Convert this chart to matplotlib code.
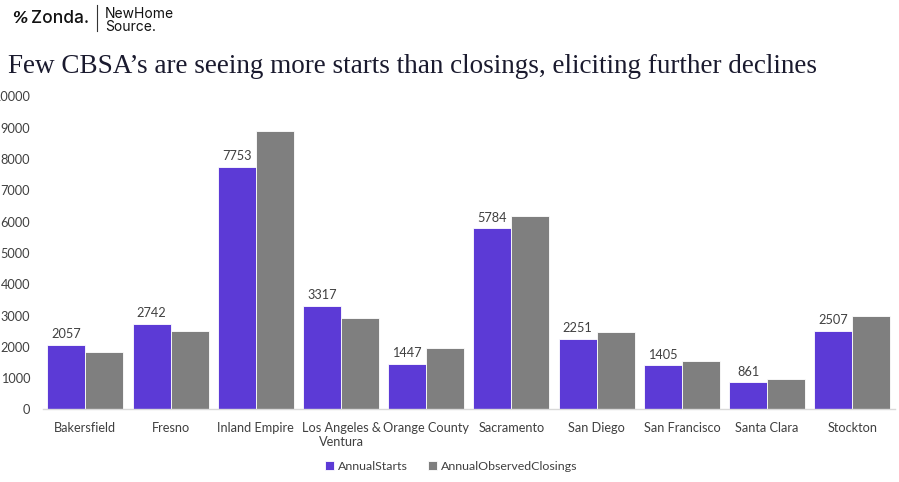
import matplotlib
matplotlib.use("Agg")
import matplotlib.pyplot as plt
import numpy as np

categories = ["Bakersfield", "Fresno", "Inland Empire", "Los Angeles &\nVentura",
              "Orange County", "Sacramento", "San Diego", "San Francisco",
              "Santa Clara", "Stockton"]
annual_starts = [2057, 2742, 7753, 3317, 1447, 5784, 2251, 1405, 861, 2507]
annual_closings = [1824, 2505, 8904, 2930, 1952, 6189, 2473, 1537, 962, 2974]
yticks = [0, 1000, 2000, 3000, 4000, 5000, 6000, 7000, 8000, 9000, 10000]

PURPLE = "#5C3AD6"
GRAY = "#7F7F7F"
TXT = "#404040"
FONT = "Lato"

fig = plt.figure(figsize=(8.99, 4.82), dpi=100)
ax = fig.add_axes([0.0475, 0.1506, 0.948, 0.6494])

x = np.arange(len(categories))
w = 0.446
ax.bar(x - w / 2, annual_starts, width=w, color=PURPLE, edgecolor="white", linewidth=0.6,
       label="AnnualStarts")
ax.bar(x + w / 2, annual_closings, width=w, color=GRAY, edgecolor="white", linewidth=0.6,
       label="AnnualObservedClosings")

for xi, v in zip(x, annual_starts):
    ax.annotate(f"{v}", (xi - w / 2, v), xytext=(0, 3.5), textcoords="offset points",
                ha="center", va="bottom", fontsize=9.2, color=TXT, family=FONT)

ax.set_xlim(-0.5, len(categories) - 0.5)
ax.set_ylim(0, 10000)
ax.set_yticks(yticks)
ax.set_yticklabels([str(t) for t in yticks], family=FONT, fontsize=9.2, color=TXT)
ax.set_xticks(x)
ax.set_xticklabels(categories, family=FONT, fontsize=9.2, color=TXT, linespacing=1.2, va="top")
ax.tick_params(axis="both", length=0)
ax.tick_params(axis="y", pad=9)
ax.tick_params(axis="x", pad=9)
for s in ["top", "right", "left"]:
    ax.spines[s].set_visible(False)
ax.spines["bottom"].set_color("#D9D9D9")
ax.spines["bottom"].set_linewidth(1)

leg = fig.legend(loc="center", bbox_to_anchor=(0.502, 0.032), ncol=2, frameon=False,
                 prop={"family": FONT, "size": 8.9}, handlelength=0.7, handleheight=0.7,
                 handletextpad=0.35, columnspacing=1.6)
for t in leg.get_texts():
    t.set_color(TXT)

fig.text(0.009, 0.862, "Few CBSA\u2019s are seeing more starts than closings, eliciting further declines",
         family="Liberation Serif", fontsize=19.5, color="#1A1A2E", va="center", ha="left")

# Logo
fig.text(0.013, 0.962, "%", family="DejaVu Sans", fontsize=11, fontweight="bold", fontstyle="italic",
         color="#111111", va="center", ha="left")
fig.text(0.035, 0.962, "Zonda.", family="Inter", fontsize=12.5, fontweight="medium",
         color="#111111", va="center", ha="left")
fig.add_artist(plt.Line2D([0.108, 0.108], [0.936, 0.99], transform=fig.transFigure,
                          color="#333333", linewidth=0.8))
fig.text(0.117, 0.971, "NewHome", family="Inter", fontsize=10, color="#111111",
         va="center", ha="left")
fig.text(0.117, 0.945, "Source.", family="Inter", fontsize=10, color="#111111",
         va="center", ha="left")

fig.savefig("out.png", dpi=100)
